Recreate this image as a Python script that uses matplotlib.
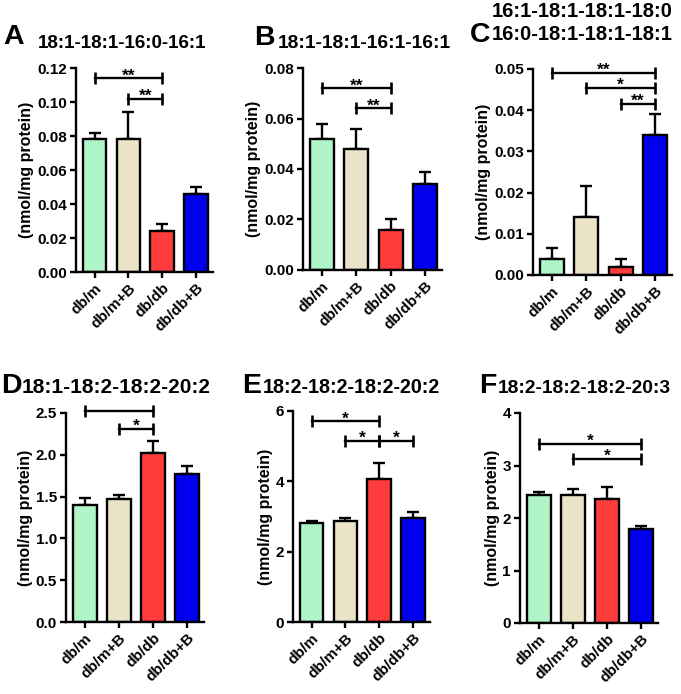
import matplotlib
matplotlib.use("Agg")
import matplotlib.pyplot as plt
import numpy as np

plt.rcParams['font.family'] = ['Liberation Sans', 'DejaVu Sans']
plt.rcParams['font.weight'] = 'bold'

categories = ["db/m", "db/m+B", "db/db", "db/db+B"]
bar_colors = ["#b0f5c8", "#ebe3c8", "#ff3c3c", "#0000ee"]

letters = ["A", "B", "C", "D", "E", "F"]
titles = ["18:1-18:1-16:0-16:1", "18:1-18:1-16:1-16:1",
          "16:1-18:1-18:1-18:0\n16:0-18:1-18:1-18:1",
          "18:1-18:2-18:2-20:2", "18:2-18:2-18:2-20:2", "18:2-18:2-18:2-20:3"]

means_A = [0.078, 0.078, 0.024, 0.046]
errs_A = [0.004, 0.016, 0.004, 0.004]
means_B = [0.052, 0.048, 0.016, 0.034]
errs_B = [0.006, 0.008, 0.004, 0.005]
means_C = [0.004, 0.014, 0.002, 0.034]
errs_C = [0.0025, 0.0075, 0.002, 0.005]
means_D = [1.40, 1.47, 2.02, 1.77]
errs_D = [0.08, 0.05, 0.15, 0.10]
means_E = [2.82, 2.86, 4.07, 2.97]
errs_E = [0.06, 0.10, 0.45, 0.16]
means_F = [2.43, 2.44, 2.36, 1.80]
errs_F = [0.06, 0.12, 0.24, 0.04]

# significance: (from index, to index, y level, label)
sig_A = [(0, 2, 0.114, "**"), (1, 2, 0.102, "**")]
sig_B = [(0, 2, 0.072, "**"), (1, 2, 0.064, "**")]
sig_C = [(0, 3, 0.049, "**"), (1, 3, 0.0455, "*"), (2, 3, 0.0415, "**")]
sig_D = [(0, 2, 2.52, "*"), (1, 2, 2.31, "*")]
sig_E = [(0, 2, 5.71, "*"), (1, 2, 5.15, "*"), (2, 3, 5.15, "*")]
sig_F = [(0, 3, 3.41, "*"), (1, 3, 3.13, "*")]

ymax_list = [0.12, 0.08, 0.05, 2.5, 6, 4]
ystep_list = [0.02, 0.02, 0.01, 0.5, 2, 1]
yfmt_list = ["%.2f", "%.2f", "%.2f", "%.1f", "%d", "%d"]

all_means = [means_A, means_B, means_C, means_D, means_E, means_F]
all_errs = [errs_A, errs_B, errs_C, errs_D, errs_E, errs_F]
all_sigs = [sig_A, sig_B, sig_C, sig_D, sig_E, sig_F]

W, H = 681, 694
fig = plt.figure(figsize=(W / 100, H / 100), dpi=100)

# axes boxes in pixels: left, right, top, bottom
boxes = [(76, 213, 68, 272), (303, 442, 68, 270), (533, 672, 69, 275),
         (66, 204, 413, 622), (293, 430, 411, 622), (520, 658, 413, 623)]
# letter positions (x, baseline y) and title positions
letter_pos = [(3, 44), (254, 45), (470, 42), (1, 393), (242, 393), (479, 393)]
title_pos = [(38, 48), (278, 48), (492, 40), (22, 393), (263, 393), (498, 393)]
title_sizes = [13.5, 13.8, 14.5, 15.0, 14.2, 13.8]

x = np.arange(len(categories))
for i in range(6):
    l, r, t, b = boxes[i]
    ax = fig.add_axes([l / W, 1 - b / H, (r - l) / W, (b - t) / H])
    ax.bar(x, all_means[i], width=0.7, color=bar_colors, edgecolor="black",
           linewidth=1.7, zorder=2)
    ax.errorbar(x, all_means[i], yerr=[np.zeros(4), all_errs[i]], fmt="none",
                ecolor="black", elinewidth=1.7, capsize=4.5, capthick=1.7, zorder=1)
    for (a, c, y, lab) in all_sigs[i]:
        ax.plot([x[a], x[c]], [y, y], color="black", lw=1.7, marker="|",
                ms=9, mew=1.9, clip_on=False, zorder=3)
        ax.annotate(lab, ((x[a] + x[c]) / 2, y), xytext=(0, -1.5),
                    textcoords="offset points", ha="center", va="baseline",
                    fontsize=12.5, fontweight="bold")
    ax.set_xlim(-0.55, 3.5)
    ax.set_ylim(0, ymax_list[i])
    ticks = np.arange(0, ymax_list[i] + ystep_list[i] / 2, ystep_list[i])
    ax.set_yticks(ticks)
    ax.set_yticklabels([yfmt_list[i] % v for v in ticks])
    ax.set_xticks(x)
    ax.set_xticklabels(categories, rotation=45, ha="right", rotation_mode="anchor")
    for s in ["top", "right"]:
        ax.spines[s].set_visible(False)
    for s in ["left", "bottom"]:
        ax.spines[s].set_linewidth(1.7)
    ax.tick_params(axis="both", width=1.7, length=4, labelsize=11, pad=2.5)
    ax.set_ylabel("(nmol/mg protein)", fontsize=11.5, fontweight="bold", labelpad=2)
    for lab in ax.get_xticklabels() + ax.get_yticklabels():
        lab.set_fontweight("bold")

    lx, ly = letter_pos[i]
    fig.text(lx / W, 1 - ly / H, letters[i], fontsize=20.5, fontweight="bold",
             ha="left", va="baseline")
    tx, ty = title_pos[i]
    fig.text(tx / W, 1 - ty / H, titles[i], fontsize=title_sizes[i],
             fontweight="bold", ha="left", va="baseline", linespacing=1.25)

fig.savefig("out.png", dpi=100)
